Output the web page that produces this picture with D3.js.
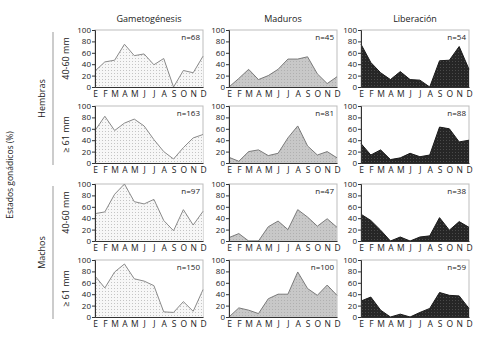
<!DOCTYPE html>
<html>
<head>
<meta charset="utf-8">
<script src="https://cdn.jsdelivr.net/npm/d3@7"></script>
<style>
  body { margin: 0; background: #fff; }
  svg text { font-family: "Open Sans", "Noto Sans", sans-serif; fill: #222; }
</style>
</head>
<body>
<div id="chart"></div>
<script>
//******************************************************************************
//**  Data
//******************************************************************************
var months = ["E","F","M","A","M","J","J","A","S","O","N","D"];
var stages = ["Gametogénesis","Maduros","Liberación"];
var sexes = ["Hembras","Machos"];
var sizes = ["40-60 mm","\u2265 61 mm"];
var yTicks = [0,20,40,60,80,100];

// rows: Hembras 40-60, Hembras >=61, Machos 40-60, Machos >=61
var gametogenesis = [
    [28,44,47,75,55,58,39,50,0,29,25,54],
    [57,82,57,70,77,65,41,20,7,27,44,50],
    [48,51,82,100,69,65,73,36,18,55,28,52],
    [72,51,79,93,67,63,55,9,8,27,10,48]
];
var maduros = [
    [0,15,31,13,20,31,49,49,53,23,6,18],
    [10,3,20,23,13,17,44,65,30,14,20,9],
    [6,13,0,0,25,35,20,55,42,26,39,24],
    [0,16,12,6,32,40,40,79,50,38,56,38]
];
var liberacion = [
    [75,43,25,13,27,13,12,0,46,47,71,31],
    [34,14,23,6,9,17,11,14,63,60,37,40],
    [47,36,19,0,7,0,7,9,41,19,34,24],
    [28,35,12,0,5,0,8,15,43,38,37,15]
];
var nValues = [
    [68,45,54],
    [163,81,88],
    [97,47,38],
    [150,100,59]
];

//******************************************************************************
//**  Layout
//******************************************************************************
var width = 492, height = 341;
var colX = [95, 229, 361];
var rowY = [30, 106, 184, 260];
var pw = 108, ph = 57;

var svg = d3.select("#chart").append("svg")
    .attr("width", width)
    .attr("height", height);

//**************************************************************************
//** Fill patterns
//**************************************************************************
var defs = svg.append("defs");
var styles = [
    {id: "p0", bg: "#f7f7f7", dot: "#c4c4c4", stroke: "#8a8a8a"},
    {id: "p1", bg: "#c8c8c8", dot: "#b0b0b0", stroke: "#7a7a7a"},
    {id: "p2", bg: "#262626", dot: "#4a4a4a", stroke: "#1a1a1a"}
];
styles.forEach(function(s){
    var p = defs.append("pattern")
        .attr("id", s.id)
        .attr("width", 3)
        .attr("height", 3)
        .attr("patternUnits", "userSpaceOnUse");
    p.append("rect").attr("width", 3).attr("height", 3).attr("fill", s.bg);
    p.append("rect").attr("x", 1).attr("y", 1).attr("width", 1).attr("height", 1).attr("fill", s.dot);
});

var x = d3.scalePoint().domain(d3.range(12)).range([0, pw]);
var y = d3.scaleLinear().domain([0, 100]).range([ph, 0]);

var area = d3.area()
    .x(function(d, i){ return x(i); })
    .y0(y(0))
    .y1(function(d){ return y(d); });
var line = d3.line()
    .x(function(d, i){ return x(i); })
    .y(function(d){ return y(d); });

var series = [gametogenesis, maduros, liberacion];

//**************************************************************************
//** Panels
//**************************************************************************
rowY.forEach(function(ry, r){
    colX.forEach(function(cx, c){
        var g = svg.append("g").attr("transform", "translate(" + cx + "," + ry + ")");
        var data = series[c][r];

        // frame
        g.append("rect")
            .attr("width", pw)
            .attr("height", ph)
            .attr("fill", "none")
            .attr("stroke", "#bdbdbd")
            .attr("stroke-width", 1);

        g.append("path")
            .datum(data)
            .attr("d", area)
            .attr("fill", "url(#" + styles[c].id + ")");
        g.append("path")
            .datum(data)
            .attr("d", line)
            .attr("fill", "none")
            .attr("stroke", styles[c].stroke)
            .attr("stroke-width", 1);

        var ya = g.append("g")
            .call(d3.axisLeft(y).tickValues(yTicks).tickSize(3).tickPadding(1));
        ya.selectAll("text").style("font-size", "8px");
        ya.select(".domain").attr("stroke", "#333");
        ya.selectAll(".tick line").attr("stroke", "#333");

        var xa = g.append("g")
            .attr("transform", "translate(0," + ph + ")")
            .call(d3.axisBottom(x).tickSize(0).tickPadding(4)
                .tickFormat(function(i){ return months[i]; }));
        xa.selectAll("text").style("font-size", "8.5px");
        xa.select(".domain").attr("stroke", "#333");

        g.append("text")
            .attr("x", pw - 3)
            .attr("y", 10)
            .attr("text-anchor", "end")
            .style("font-size", "8px")
            .text("n=" + nValues[r][c]);
    });
});

//**************************************************************************
//** Titles and labels
//**************************************************************************
stages.forEach(function(s, c){
    svg.append("text")
        .attr("x", colX[c] + pw / 2)
        .attr("y", 22)
        .attr("text-anchor", "middle")
        .style("font-size", "9px")
        .text(s);
});

rowY.forEach(function(ry, r){
    svg.append("text")
        .attr("transform", "translate(69," + (ry + ph / 2) + ") rotate(-90)")
        .attr("text-anchor", "middle")
        .style("font-size", "9px")
        .text(sizes[r % 2]);
});

sexes.forEach(function(s, i){
    var top = rowY[i * 2] + 2;
    var bottom = rowY[i * 2 + 1] + ph + 2;
    svg.append("line")
        .attr("x1", 53).attr("x2", 53)
        .attr("y1", top).attr("y2", bottom)
        .attr("stroke", "#999")
        .attr("stroke-width", 1);
    svg.append("text")
        .attr("transform", "translate(45," + ((top + bottom) / 2) + ") rotate(-90)")
        .attr("text-anchor", "middle")
        .style("font-size", "9px")
        .text(s);
});

svg.append("text")
    .attr("transform", "translate(13," + 175 + ") rotate(-90)")
    .attr("text-anchor", "middle")
    .style("font-size", "8.5px")
    .text("Estados gonádicos (%)");
</script>
</body>
</html>
